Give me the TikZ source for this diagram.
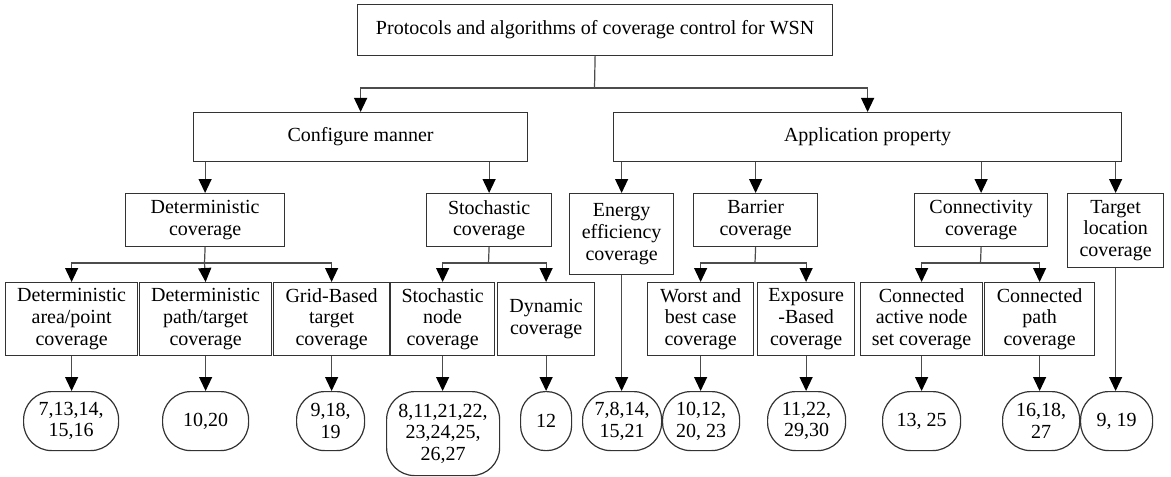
\documentclass[tikz,border=0pt]{standalone}
\usepackage{fontspec}
\setmainfont{LiberationSerif}[Extension=.ttf, UprightFont=*-Regular, BoldFont=*-Bold, ItalicFont=*-Italic, BoldItalicFont=*-BoldItalic]
\usetikzlibrary{arrows.meta}
\tikzset{
  box/.style={draw=black!80, line width=0.6pt, rectangle, inner sep=0pt, align=center,
    anchor=north west, font=\fontsize{10}{10.8}\selectfont},
  refbox/.style={box, rounded corners=14pt},
  narrowref/.style={box, rounded corners=12.4pt},
  conn/.style={draw=black!70, line width=0.6pt},
  arr/.style={conn, -{Triangle[width=6.5pt,length=7pt,color=black]}},
}
\newcommand\pbox[7]{\node[#7, minimum width={(#4-#2)*0.5pt}, minimum height={(#5-#3)*0.5pt}] (#1) at (#2,#3) {#6};}
\begin{document}
\begin{tikzpicture}[x=0.5pt,y=-0.5pt]
\useasboundingbox (0,0) rectangle (1171,476);
% level 0
\pbox{t}{357}{4}{832}{55}{Protocols and algorithms of coverage control for WSN}{box}
% level 1
\pbox{cm}{193}{112}{527}{161}{Configure manner}{box}
\pbox{ap}{613}{112}{1121}{161}{Application property}{box}
% level 2
\pbox{dc}{125}{193}{284}{246}{Deterministic\\coverage}{box}
\pbox{sc}{426}{193}{551}{246}{Stochastic\\coverage}{box}
\pbox{ee}{569}{193}{673}{274}{Energy\\efficiency\\coverage}{box}
\pbox{bc}{693}{193}{817}{246}{Barrier\\coverage}{box}
\pbox{cc}{914}{193}{1047}{246}{Connectivity\\coverage}{box}
\pbox{tl}{1067}{193}{1163}{267}{Target\\location\\coverage}{box}
% level 3
\pbox{da}{5}{282}{137}{355}{Deterministic\\area/point\\coverage}{box}
\pbox{dp}{139}{282}{271}{355}{Deterministic\\path/target\\coverage}{box}
\pbox{gb}{273}{282}{389}{355}{Grid-Based\\target\\coverage}{box}
\pbox{sn}{390}{282}{494}{355}{Stochastic\\node\\coverage}{box}
\pbox{dy}{497}{282}{594}{355}{Dynamic\\coverage}{box}
\pbox{wb}{647}{282}{753}{355}{Worst and\\best case\\coverage}{box}
\pbox{ex}{757}{282}{854}{355}{Exposure\\-Based\\coverage}{box}
\pbox{ca}{860}{282}{982}{355}{Connected\\active node\\set coverage}{box}
\pbox{cp}{984}{282}{1094}{355}{Connected\\path\\coverage}{box}
% references
\pbox{e1}{23}{391}{118}{450}{7,13,14,\\15,16}{refbox}
\pbox{e2}{162}{391}{248}{450}{10,20}{refbox}
\pbox{e3}{296}{391}{364}{450}{9,18,\\19}{refbox}
\pbox{e4}{386}{391}{499}{475}{8,11,21,22,\\23,24,25,\\26,27}{refbox}
\pbox{e5}{520}{391}{571}{450}{12}{narrowref}
\pbox{e6}{582}{391}{661}{450}{7,8,14,\\15,21}{refbox}
\pbox{e7}{662}{391}{739}{450}{10,12,\\20, 23}{refbox}
\pbox{e8}{767}{391}{845}{450}{11,22,\\29,30}{refbox}
\pbox{e9}{882}{391}{960}{450}{13, 25}{refbox}
\pbox{e10}{1002}{391}{1079}{450}{16,18,\\27}{refbox}
\pbox{e11}{1080}{391}{1152}{450}{9, 19}{refbox}
% junctions
\coordinate (j0) at (594.5,88);
\coordinate (j1) at (204.5,263);
\coordinate (j2) at (488.5,263);
\coordinate (j3) at (755,263);
\coordinate (j4) at (980.5,263);
% connectors level 0 -> 1
\draw[conn] (t.south) -- (j0);
\draw[arr] (j0) -| (cm.north);
\draw[arr] (j0) -| (ap.north);
% level 1 -> 2
\draw[arr] (dc.north |- cm.south) -- (dc.north);
\draw[arr] (sc.north |- cm.south) -- (sc.north);
\draw[arr] (ee.north |- ap.south) -- (ee.north);
\draw[arr] (bc.north |- ap.south) -- (bc.north);
\draw[arr] (cc.north |- ap.south) -- (cc.north);
\draw[arr] (tl.north |- ap.south) -- (tl.north);
% level 2 -> 3
\draw[conn] (dc.south) -- (j1);
\draw[arr] (j1) -| (da.north);
\draw[arr] (j1) -- (dp.north);
\draw[arr] (j1) -| (gb.north);
\draw[conn] (sc.south) -- (j2);
\draw[arr] (j2) -| (sn.north);
\draw[arr] (j2) -| (dy.north);
\draw[conn] (bc.south) -- (j3);
\draw[arr] (j3) -| (wb.north);
\draw[arr] (j3) -| (ex.north);
\draw[conn] (cc.south) -- (j4);
\draw[arr] (j4) -| (ca.north);
\draw[arr] (j4) -| (cp.north);
% level 3 -> references
\draw[arr] (da.south) -- (da.south |- e1.north);
\draw[arr] (dp.south) -- (dp.south |- e2.north);
\draw[arr] (gb.south) -- (gb.south |- e3.north);
\draw[arr] (sn.south) -- (sn.south |- e4.north);
\draw[arr] (dy.south) -- (dy.south |- e5.north);
\draw[arr] (ee.south) -- (ee.south |- e6.north);
\draw[arr] (wb.south) -- (wb.south |- e7.north);
\draw[arr] (ex.south) -- (ex.south |- e8.north);
\draw[arr] (ca.south) -- (ca.south |- e9.north);
\draw[arr] (cp.south) -- (cp.south |- e10.north);
\draw[arr] (tl.south) -- (tl.south |- e11.north);
\end{tikzpicture}
\end{document}
